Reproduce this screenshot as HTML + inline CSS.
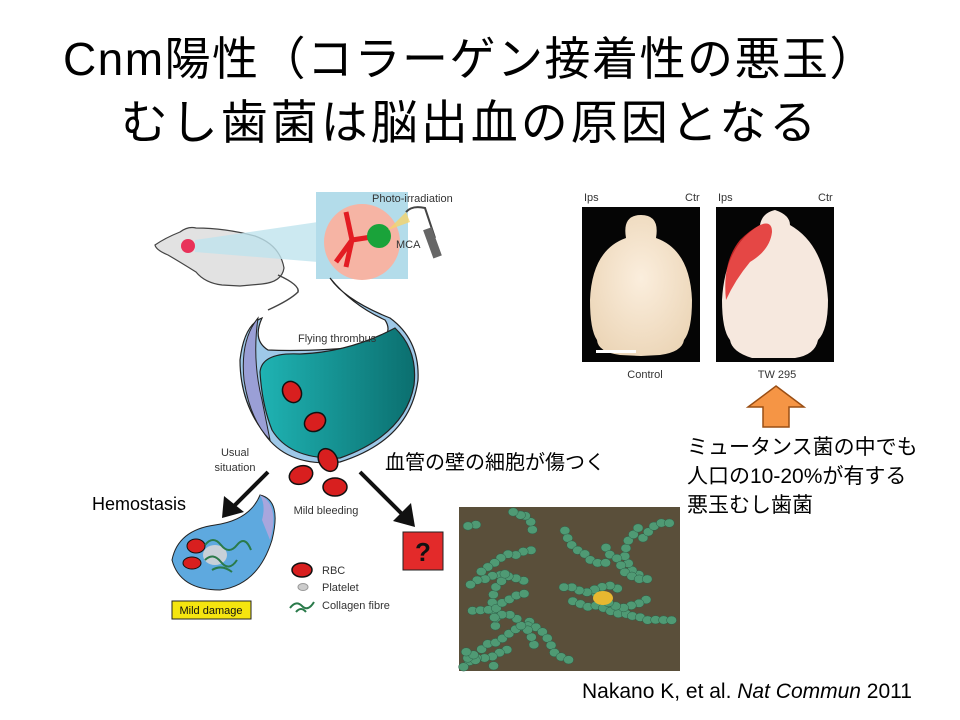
<!DOCTYPE html>
<html><head><meta charset="utf-8">
<style>
html,body{margin:0;padding:0;background:#fff;}
body{width:960px;height:720px;overflow:hidden;position:relative;font-family:"Liberation Sans","Noto Sans CJK JP",sans-serif;}
.t{position:absolute;white-space:nowrap;color:#000;}
</style></head><body>
<div class="t" style="left:0;width:940px;text-align:center;top:32px;font-size:46px;line-height:54px;letter-spacing:1.5px;">Cnm陽性（コラーゲン接着性の悪玉）</div>
<div class="t" style="left:0;width:940px;text-align:center;top:96px;font-size:47px;line-height:54px;letter-spacing:3px;">むし歯菌は脳出血の原因となる</div>

<svg width="960" height="720" style="position:absolute;left:0;top:0" xmlns="http://www.w3.org/2000/svg" font-family="Liberation Sans, sans-serif">
<defs>
<linearGradient id="tg" x1="0" x2="1"><stop offset="0" stop-color="#1fb3b3"/><stop offset="1" stop-color="#0b6f6f"/></linearGradient>
<radialGradient id="br" cx="0.5" cy="0.45" r="0.6"><stop offset="0" stop-color="#fbeedd"/><stop offset="1" stop-color="#ecd6b8"/></radialGradient>
</defs>
<!-- mouse -->
<path d="M155,245 Q165,238 180,232 Q188,226 196,228 Q225,228 255,236 Q280,245 284,268 Q282,282 262,284 L240,286 L222,285 Q205,283 196,272 Q180,262 168,255 Q156,250 155,245 Z" fill="#e2e2e2" stroke="#444" stroke-width="1.2"/>
<path d="M278,275 Q300,285 298,292 Q290,300 268,310" fill="none" stroke="#444" stroke-width="1.5"/>
<circle cx="188" cy="246" r="7" fill="#e8325a"/>
<polygon points="195,240 318,222 318,262 195,252" fill="#bfe3ee" opacity="0.8"/>
<!-- box -->
<rect x="316" y="192" width="92" height="87" fill="#b3dcea"/>
<circle cx="362" cy="242" r="38" fill="#f6b4a4"/>
<path d="M346,212 L352,240 L378,236 M352,240 L336,262 M352,240 L346,267" stroke="#e31c23" stroke-width="5" fill="none"/>
<circle cx="379" cy="236" r="12" fill="#1aa33a"/>
<path d="M388,230 L406,212 L410,222 Z" fill="#f5d36a" opacity="0.8"/>
<path d="M406,212 Q412,205 425,208 L435,238" fill="none" stroke="#444" stroke-width="2"/>
<rect x="428" y="228" width="9" height="30" fill="#666" transform="rotate(-20 432 243)"/>
<text x="372" y="202" font-size="11" fill="#333">Photo-irradiation</text>
<text x="396" y="248" font-size="11" fill="#333">MCA</text>
<!-- thrombus -->
<path d="M330,278 Q345,300 390,318 Q420,340 418,380 Q410,440 340,462 Q285,468 262,430 Q240,400 240,360 Q244,325 262,318 Q252,340 268,350 Q310,352 372,346 Q395,335 385,320 Q352,305 330,278 Z" fill="#9ec8e8" stroke="#222" stroke-width="1.2"/>
<path d="M258,318 Q240,340 244,380 Q250,420 270,440 L262,400 Q252,360 258,318 Z" fill="#9a9fd6" stroke="#222" stroke-width="1"/>
<path d="M260,372 Q262,352 300,354 Q350,352 395,328 Q418,350 414,385 Q405,435 340,458 Q290,460 272,430 Q262,405 260,372 Z" fill="url(#tg)" stroke="#222" stroke-width="1.2"/>
<ellipse cx="292" cy="392" rx="9" ry="11" fill="#d81f1f" stroke="#111" stroke-width="1.5" transform="rotate(-30 292 392)"/>
<ellipse cx="315" cy="422" rx="11" ry="9" fill="#d81f1f" stroke="#111" stroke-width="1.5" transform="rotate(-30 315 422)"/>
<ellipse cx="328" cy="460" rx="9" ry="12" fill="#d81f1f" stroke="#111" stroke-width="1.5" transform="rotate(-30 328 460)"/>
<ellipse cx="301" cy="475" rx="12" ry="9" fill="#d81f1f" stroke="#111" stroke-width="1.5" transform="rotate(-20 301 475)"/>
<ellipse cx="335" cy="487" rx="12" ry="9" fill="#d81f1f" stroke="#111" stroke-width="1.5"/>
<text x="298" y="342" font-size="11" fill="#333">Flying thrombus</text>
<text x="235" y="456" font-size="11" fill="#333" text-anchor="middle">Usual</text>
<text x="235" y="471" font-size="11" fill="#333" text-anchor="middle">situation</text>
<text x="326" y="514" font-size="11" fill="#333" text-anchor="middle">Mild bleeding</text>
<!-- arrows -->
<line x1="268" y1="472" x2="232" y2="508" stroke="#111" stroke-width="4"/>
<polygon points="222,518 224,496 244,512" fill="#111"/>
<line x1="360" y1="472" x2="404" y2="516" stroke="#111" stroke-width="4"/>
<polygon points="415,527 393,521 411,503" fill="#111"/>
<rect x="403" y="532" width="40" height="38" fill="#e32a2a" stroke="#222" stroke-width="1"/>
<text x="423" y="561" font-size="26" font-weight="bold" text-anchor="middle" fill="#111">?</text>
<!-- small thrombus -->
<path d="M260,495 Q282,500 272,540 Q258,585 220,590 Q180,590 172,560 Q178,530 215,525 Q250,520 260,495 Z" fill="#5ea9df" stroke="#222" stroke-width="1"/>
<path d="M260,495 Q280,505 270,540 L262,520 Q266,505 260,495 Z" fill="#a8a6dd"/>
<ellipse cx="196" cy="546" rx="9" ry="7" fill="#d81f1f" stroke="#111"/>
<ellipse cx="192" cy="563" rx="9" ry="6" fill="#d81f1f" stroke="#111"/>
<ellipse cx="215" cy="555" rx="12" ry="10" fill="#c8d0d8"/>
<path d="M205,545 q8,-10 16,0 t16,0 t14,5 M205,560 q8,-8 16,2 t16,-2 M212,570 q10,-6 20,2" stroke="#2a7a4a" stroke-width="2" fill="none"/>
<rect x="172" y="601" width="79" height="18" fill="#f5e50f" stroke="#222"/>
<text x="211" y="614" font-size="11" text-anchor="middle" fill="#111">Mild damage</text>
<!-- legend -->
<ellipse cx="302" cy="570" rx="10" ry="7" fill="#d81f1f" stroke="#111" stroke-width="1.5"/>
<text x="322" y="574" font-size="11" fill="#333">RBC</text>
<ellipse cx="303" cy="587" rx="5" ry="3.5" fill="#ccc" stroke="#999"/>
<text x="322" y="591" font-size="11" fill="#333">Platelet</text>
<path d="M290,608 q6,-8 12,-2 t12,-4 M296,612 q5,-6 10,0" stroke="#2a7a4a" stroke-width="2" fill="none"/>
<text x="322" y="609" font-size="11" fill="#333">Collagen fibre</text>
<!-- brains -->
<rect x="582" y="207" width="118" height="155" fill="#050505"/>
<rect x="716" y="207" width="118" height="155" fill="#050505"/>
<path d="M641,215 Q660,215 656,238 Q690,250 692,300 Q692,330 684,340 Q682,352 660,355 L641,356 L620,355 Q598,352 597,340 Q590,330 590,300 Q592,250 626,238 Q622,215 641,215 Z" fill="url(#br)"/>
<rect x="596" y="350" width="40" height="3" fill="#fff"/>
<path d="M775,210 Q790,215 790,225 Q825,245 828,300 Q828,330 818,340 Q815,355 795,358 L775,358 L752,358 Q732,352 730,340 Q722,330 722,300 Q725,245 760,225 Q762,213 775,210 Z" fill="#f6e8de"/>
<path d="M760,225 Q772,220 772,232 Q770,250 750,262 Q735,280 726,300 Q722,262 740,240 Q750,230 760,225 Z" fill="#e22a2a" opacity="0.85"/>
<g font-size="11" fill="#333">
<text x="584" y="201">Ips</text><text x="685" y="201">Ctr</text>
<text x="718" y="201">Ips</text><text x="818" y="201">Ctr</text>
<text x="645" y="378" text-anchor="middle">Control</text>
<text x="777" y="378" text-anchor="middle">TW 295</text>
</g>
<polygon points="776,386 804,407 789,407 789,427 763,427 763,407 748,407" fill="#f59545" stroke="#9a4e14" stroke-width="1.5"/>
<!-- SEM -->
<rect x="459" y="507" width="221" height="164" fill="#5a4f3a"/>
<g id="bac"></g>
</svg>

<div class="t" style="left:92px;top:494px;font-size:18px;">Hemostasis</div>
<div class="t" style="left:385px;top:446px;font-size:20px;">血管の壁の細胞が傷つく</div>
<div class="t" style="left:687px;top:433px;font-size:21px;line-height:29px;">ミュータンス菌の中でも<br>人口の10-20%が有する<br>悪玉むし歯菌</div>
<div class="t" style="left:582px;top:680px;font-size:21px;">Nakano K, et al. <i>Nat Commun</i> 2011</div>

<script>
var g=document.getElementById('bac'),s=7,h='';
function r(){s=(s*9301+49297)%233280;return s/233280;}
for(var c=0;c<22;c++){var x=465+r()*205,y=515+r()*148,a=r()*6.28;
for(var k=0;k<8;k++){a+=(r()-0.5)*1.2;x+=Math.cos(a)*8;y+=Math.sin(a)*8;
if(x<463||x>676||y<511||y>667)break;
h+='<ellipse cx="'+x.toFixed(1)+'" cy="'+y.toFixed(1)+'" rx="5" ry="4.2" fill="#4f9a74" stroke="#2e5e48" stroke-width="0.5"/>';}}
h+='<ellipse cx="603" cy="598" rx="10" ry="7" fill="#e8b830"/>';
g.innerHTML=h;
</script>
</body></html>
